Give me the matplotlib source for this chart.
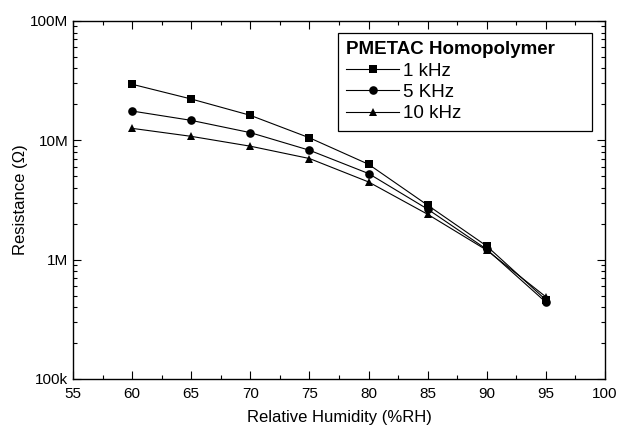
import matplotlib
matplotlib.use("Agg")
import matplotlib.pyplot as plt
from matplotlib.ticker import LogLocator, FixedLocator, MultipleLocator, FuncFormatter, NullFormatter

plt.rcParams['font.family'] = ['Liberation Sans', 'DejaVu Sans']

humidity = [60, 65, 70, 75, 80, 85, 90, 95]
r_1khz = [29.5e6, 22.2e6, 16.2e6, 10.5e6, 6.3e6, 2.86e6, 1.30e6, 0.46e6]
r_5khz = [17.6e6, 14.7e6, 11.6e6, 8.26e6, 5.27e6, 2.65e6, 1.22e6, 0.44e6]
r_10khz = [12.6e6, 10.8e6, 8.93e6, 7.04e6, 4.48e6, 2.40e6, 1.20e6, 0.488e6]

series_labels = ['1 kHz', '5 KHz', '10 kHz']
legend_title = 'PMETAC Homopolymer'
y_tick_values = [1e5, 1e6, 1e7, 1e8]
y_tick_labels = ['100k', '1M', '10M', '100M']

fig = plt.figure(figsize=(6.18, 4.30), dpi=100)
ax = fig.add_axes([73 / 618, 1 - 379 / 430, (605 - 73) / 618, (379 - 21) / 430])

markers = ['s', 'o', '^']
for vals, lab, mk in zip([r_1khz, r_5khz, r_10khz], series_labels, markers):
    ax.plot(humidity, vals, color='black', lw=0.8, marker=mk, markersize=6.2,
            markeredgewidth=0, label=lab)

ax.set_yscale('log')
ax.set_xlim(55, 100)
ax.set_ylim(1e5, 1e8)

ax.xaxis.set_major_locator(MultipleLocator(5))
ax.xaxis.set_minor_locator(MultipleLocator(2.5))
ax.yaxis.set_major_locator(FixedLocator(y_tick_values))
ax.yaxis.set_major_formatter(FuncFormatter(lambda v, p: dict(zip(y_tick_values, y_tick_labels)).get(v, '')))
ax.yaxis.set_minor_locator(LogLocator(base=10, subs=range(2, 10)))
ax.yaxis.set_minor_formatter(NullFormatter())

ax.tick_params(which='both', direction='in', top=True, right=True, labelsize=11, width=0.8)
ax.tick_params(which='major', length=6)
ax.tick_params(which='minor', length=3)
ax.tick_params(axis='x', pad=6)
for sp in ax.spines.values():
    sp.set_linewidth(1.0)

ax.set_xlabel('Relative Humidity (%RH)', fontsize=12, labelpad=6)
ax.set_ylabel('Resistance (\u03a9)', fontsize=12, labelpad=1)

x0 = (338 - 73) / 532
x1 = (592 - 73) / 532
top = (379 - 33) / 358
leg = ax.legend(title=legend_title, loc='upper left', bbox_to_anchor=(x0, 0, x1 - x0, top),
                mode='expand', frameon=True, fancybox=False, edgecolor='black', framealpha=1,
                fontsize=13.5, handlelength=2.8, handletextpad=0.2, labelspacing=0.22,
                borderpad=0.45, borderaxespad=0,
                title_fontproperties={'weight': 'bold', 'size': 13.5})
leg.get_frame().set_linewidth(0.9)
leg._legend_box.align = 'left'

fig.savefig('out.png', dpi=100)
